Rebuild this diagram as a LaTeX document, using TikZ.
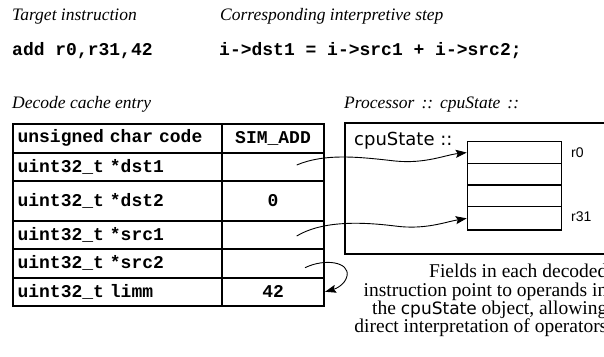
\documentclass[tikz,border=0pt]{standalone}
\usepackage{fontspec}
\setmainfont{Liberation Serif}
\newfontfamily\codefont{Liberation Mono}[WordSpace={1,0,0}]
\newfontfamily\guifont{DejaVu Sans}
\newfontfamily\regfont{Liberation Sans}
\usetikzlibrary{arrows.meta}
\newcommand{\cellfont}{\fontsize{18}{20}\selectfont\codefont\bfseries}

\begin{document}
\begin{tikzpicture}[x=1pt,y=-1pt,
    caption/.style={anchor=base west,inner sep=0pt,font=\fontsize{17.5}{20}\selectfont\itshape},
    code/.style={anchor=base west,inner sep=0pt,font=\cellfont},
    field/.style={draw,line width=1.8pt,anchor=north west,inner xsep=4.35pt,inner ysep=0pt,
        minimum height=#1,text width=200pt,align=left,font=\cellfont},
    value/.style={draw,line width=1.8pt,anchor=north west,inner sep=0pt,
        minimum width=102.3pt,minimum height=#1,font=\cellfont},
    reg/.style={draw,line width=1.4pt,anchor=north west,inner sep=0pt,
        minimum width=94pt,minimum height=#1},
    ptr/.style={-{Stealth[length=11pt,width=8pt,inset=2pt]},line width=0.9pt}]
    \useasboundingbox (0,0) rectangle (604,356);
    \clip (0,0) rectangle (604,356);

    \node[caption] (tgtcap) at (12,20.5) {Target instruction};
    \node[caption] (stepcap) at (220,20.5) {Corresponding interpretive step};
    \node[code] (tgt) at (12,55) {add r0,r31,42};
    \node[code] (step) at (219,55) {i->dst1 = i->src1 + i->src2;};
    \node[caption] (dcecap) at (12,108) {Decode cache entry};
    \node[caption] (cpucap) at (344,108) {Processor\hspace{7pt}::\hspace{7pt}cpuState\hspace{7pt}::};

    % decode cache entry
    \node[field=29pt] (fcode) at (12.3,122.7) {unsigned char code};
    \node[value=29pt] (vcode) at (221,122.7) {SIM\_ADD};
    \node[field=28.3pt] (fdst1) at (12.3,151.7) {uint32\_t *dst1};
    \node[value=28.3pt] (vdst1) at (221,151.7) {};
    \node[field=40pt] (fdst2) at (12.3,180) {uint32\_t *dst2};
    \node[value=40pt] (vdst2) at (221,180) {0};
    \node[field=28.3pt] (fsrc1) at (12.3,220) {uint32\_t *src1};
    \node[value=28.3pt] (vsrc1) at (221,220) {};
    \node[field=28.4pt] (fsrc2) at (12.3,248.3) {uint32\_t *src2};
    \node[value=28.4pt] (vsrc2) at (221,248.3) {};
    \node[field=28.3pt] (flimm) at (12.3,276.7) {uint32\_t limm};
    \node[value=28.3pt] (vlimm) at (221,276.7) {42};

    % cpu state
    \node[draw,line width=1.6pt,anchor=north west,minimum width=300pt,minimum height=131pt] (cpu) at (344,122) {};
    \node[anchor=base west,inner sep=0pt,font=\fontsize{18}{20}\selectfont\guifont] (cpulbl) at (354,145) {cpuState ::};
    \node[reg=21.7pt] (reg0) at (466.7,141) {};
    \node[reg=21.6pt] (reg1) at (466.7,162.7) {};
    \node[reg=21.7pt] (reg2) at (466.7,184.3) {};
    \node[reg=23.3pt] (reg3) at (466.7,206) {};
    \node[anchor=west,inner sep=0pt,font=\fontsize{14}{16}\selectfont\regfont] (r0) at (571,153) {r0};
    \node[anchor=west,inner sep=0pt,font=\fontsize{14}{16}\selectfont\regfont] (r31) at (571,217) {r31};

    \node[anchor=north east,inner sep=0pt,align=right,font=\fontsize{19.5}{18.4}\selectfont] (note) at (607.5,264)
        {Fields in each decoded\\instruction point to operands in\\the {\guifont\fontsize{17}{18.4}\selectfont cpuState} object, allowing\\direct interpretation of operators};

    % pointers
    \coordinate (dst1ptr) at (296.7,165);
    \coordinate (src1ptr) at (296.7,236);
    \coordinate (src2ptr) at (305,267.7);
    \draw[ptr] (dst1ptr) .. controls (325,153) and (360,157) .. (395,161)
        .. controls (425,164) and (445,155) .. (reg0.west);
    \draw[ptr] (src1ptr) .. controls (320,222) and (355,221) .. (395,226)
        .. controls (425,230) and (445,222) .. (reg3.west);
    \draw[ptr] (src2ptr) .. controls (325,258) and (350,262) .. (347,276)
        .. controls (345,285) and (335,289) .. (vlimm.east);
\end{tikzpicture}
\end{document}
